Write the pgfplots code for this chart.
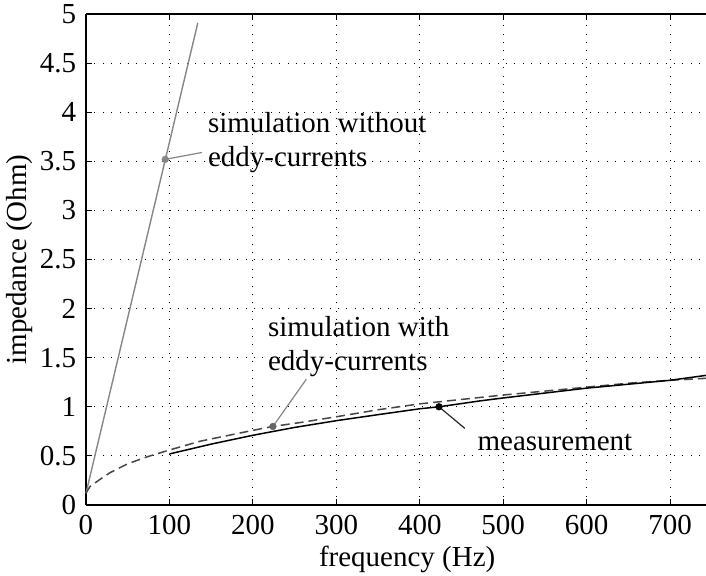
\documentclass[border=0pt]{standalone}
\usepackage{pgfplots}
\pgfplotsset{compat=1.18}
\usepackage{fontspec}
\setmainfont{Liberation Serif}
\begin{document}
\fontsize{29bp}{33bp}\selectfont
\begin{tikzpicture}
\begin{axis}[
  scale only axis, width=620bp, height=491bp,
  xmin=0, xmax=743, ymin=0, ymax=5,
  axis y line*=left,
  axis line style={line width=1.5bp},
  xtick={0,100,...,700}, ytick={0,0.5,...,5},
  xtick pos=both,
  tick align=inside, major tick length=6bp,
  tick style={line width=1.1bp, black},
  grid=major,
  major grid style={black, line width=1bp, dash pattern=on 1bp off 7.4bp},
  /pgf/number format/assume math mode=true,
  ticklabel style={font=\fontsize{29bp}{33bp}\selectfont},
  label style={font=\fontsize{29bp}{33bp}\selectfont},
  xlabel={frequency (Hz)}, ylabel={impedance (Ohm)},
  xlabel style={at={(axis description cs:0.518,-0.11)},anchor=center},
  ylabel style={at={(axis description cs:-0.1065,0.5)},anchor=center},
  clip=false,
]
% simulation without eddy-currents
\addplot[gray!95, line width=1.4bp] coordinates {(0,0.12) (134,4.91)};
% simulation with eddy-currents
\addplot[black!72, line width=1.5bp, dash pattern=on 9bp off 5bp] coordinates {
(0,0.12) (2,0.15) (5,0.19) (10,0.22) (20,0.28) (29,0.33) (50,0.42) (73,0.49) (100,0.56) (137,0.65) (200,0.76) (224,0.80) (257,0.84) (301,0.90) (350,0.97) (400,1.03) (450,1.075) (500,1.12) (550,1.16) (600,1.20) (650,1.24) (700,1.27) (743,1.29)};
% measurement
\addplot[black, line width=1.5bp] coordinates {
(100,0.52) (150,0.62) (200,0.71) (250,0.79) (301,0.86) (350,0.92) (400,0.98) (423,1.00) (472,1.06) (500,1.09) (550,1.14) (600,1.19) (650,1.23) (700,1.27) (743,1.32)};
% annotations
\addplot[gray!95, line width=1.2bp] coordinates {(95,3.52) (139,3.59)};
\addplot[gray!95, only marks, mark=*, mark size=3.4bp, mark options={fill=gray!95, draw=gray!95}] coordinates {(95,3.52)};
\addplot[gray!95, line width=1.2bp] coordinates {(224,0.80) (264,1.28)};
\addplot[gray!80!black, only marks, mark=*, mark size=3.4bp, mark options={fill=gray!80!black, draw=gray!80!black}] coordinates {(224,0.80)};
\addplot[black!85, line width=1.2bp] coordinates {(423,1.00) (454,0.78)};
\addplot[black, only marks, mark=*, mark size=3.4bp] coordinates {(423,1.00)};
\node[anchor=west, inner sep=0pt, align=left, font=\fontsize{29bp}{34bp}\selectfont] at (axis cs:146,3.69) {simulation without\\eddy-currents};
\node[anchor=west, inner sep=0pt, align=left, font=\fontsize{29bp}{34bp}\selectfont] at (axis cs:218,1.615) {simulation with\\eddy-currents};
\node[anchor=west, inner sep=0pt, font=\fontsize{29bp}{33bp}\selectfont] at (axis cs:469,0.64) {measurement};
\end{axis}
\pgfresetboundingbox
\path[use as bounding box] (-86bp,-71bp) rectangle (620bp,505bp);
\end{tikzpicture}
\end{document}
